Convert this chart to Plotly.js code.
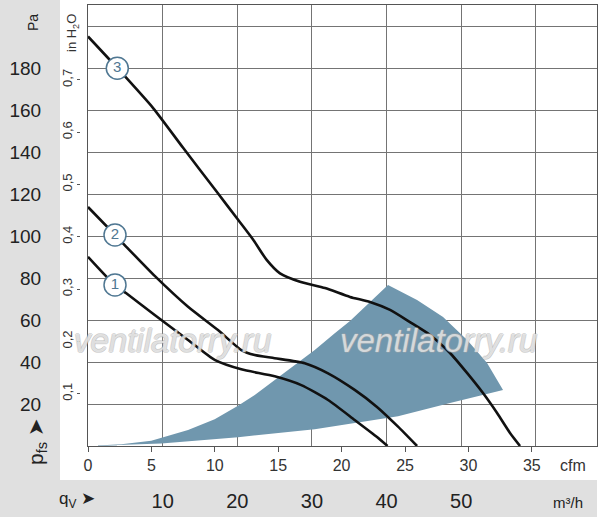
<!DOCTYPE html>
<html>
<head>
<meta charset="utf-8">
<script src="https://cdn.plot.ly/plotly-3.0.1.min.js"></script>
<style>html,body{margin:0;padding:0;background:#fff;}#chart{width:600px;height:519px;}</style>
</head>
<body>
<div id="chart"></div>
<script>
// ---- data (x in cfm, y in Pa) ----
const curve1X = [0, 2.11, 3.02, 5.26, 7.89, 9.99, 12.09, 14.72, 16.82, 18.93, 21.03, 22.79, 23.62];
const curve1Y = [90.1, 76.7, 72.7, 62.4, 50.5, 41, 36.5, 33.2, 29, 21.9, 12.4, 4.3, 0];
const curve2X = [0, 2.13, 2.89, 5.26, 7.89, 10.25, 12.09, 13.15, 14.72, 17.09, 18.93, 21.03, 22.79, 24.45, 25.95];
const curve2Y = [113.8, 100.5, 95.7, 81, 66.3, 55.2, 45.7, 43.3, 41.8, 39.4, 34.6, 26.7, 18.6, 9.2, 0];
const curve3X = [0, 2.31, 5.15, 7.5, 10.2, 11.85, 13.04, 14.09, 15.14, 16.72, 18.69, 20.66, 22.24, 23.82, 25.39, 26.97, 28.55, 29.89, 31.15, 32.26, 33.28, 34.07];
const curve3Y = [195, 180, 160.8, 142, 120.7, 107.6, 98.1, 88.6, 82.2, 78.2, 75.2, 71, 68.6, 64.8, 59, 52.9, 44.3, 34.8, 25.2, 15.7, 6.2, 0];
const shadeX = [0, 2.63, 4.99, 7.89, 9.99, 11.83, 13.15, 14.72, 16.3, 17.88, 19.46, 20.66, 23.66, 25.95, 28, 29.9, 31.47, 32.73, 28.55, 24.45, 17.88, 11.83, 5.78, 0];
const shadeY = [0, 0.8, 2.5, 7.6, 12.7, 19.2, 24.3, 31.4, 38.6, 45.7, 53.7, 59.5, 76.7, 69.5, 61.4, 50.5, 39.5, 26.7, 20.5, 14.2, 8.0, 4.2, 1.2, 0];
const curveLabels = ['1', '2', '3'];
const labelX = [2.13, 2.13, 2.31];
const labelY = [76.7, 100.5, 179.9];

// ---- axes / ticks ----
const cfmTicks = [0, 5, 10, 15, 20, 25, 30, 35];
const cfmTickText = ['0', '5', '10', '15', '20', '25', '30', '35'];
const m3hTicks = [10, 20, 30, 40, 50];
const m3hTickText = ['10', '20', '30', '40', '50'];
const m3hGridExtra = [60];
const paTicks = [20, 40, 60, 80, 100, 120, 140, 160, 180];
const paTickText = ['20', '40', '60', '80', '100', '120', '140', '160', '180'];
const paGridExtra = [200];
const inH2OTicks = [0.1, 0.2, 0.3, 0.4, 0.5, 0.6, 0.7];
const inH2OTickText = ['0,1', '0,2', '0,3', '0,4', '0,5', '0,6', '0,7'];

const CFM_MAX = 40.14;
const PA_MAX = 210;
const M3H_PER_CFM = 1.699;
const PA_PER_INH2O = 249.089;

const FONT = 'Liberation Sans, Arial, Helvetica, sans-serif';
const GRID = '#747474';
const SHADE = '#7097ae';
const BADGE = '#4f7792';

const traces = [
  {x: shadeX, y: shadeY, type: 'scatter', mode: 'lines', fill: 'toself', fillcolor: SHADE,
   line: {width: 0, color: SHADE}, hoverinfo: 'skip', showlegend: false},
  {x: curve1X, y: curve1Y, type: 'scatter', mode: 'lines', line: {color: '#111', width: 2.6, shape: 'spline', smoothing: 0.6}, showlegend: false},
  {x: curve2X, y: curve2Y, type: 'scatter', mode: 'lines', line: {color: '#111', width: 2.6, shape: 'spline', smoothing: 0.6}, showlegend: false},
  {x: curve3X, y: curve3Y, type: 'scatter', mode: 'lines', line: {color: '#111', width: 2.6, shape: 'spline', smoothing: 0.6}, showlegend: false},
  {x: labelX, y: labelY, type: 'scatter', mode: 'markers+text', text: curveLabels, textposition: 'middle center',
   textfont: {family: FONT, size: 15, color: BADGE},
   marker: {symbol: 'circle', size: 22, color: '#ffffff', line: {color: BADGE, width: 1.5}}, showlegend: false},
  // invisible traces that activate the secondary unit axes
  {x: [0], y: [0], xaxis: 'x2', yaxis: 'y', type: 'scatter', mode: 'markers', marker: {opacity: 0}, hoverinfo: 'skip', showlegend: false},
  {x: [0], y: [0], xaxis: 'x', yaxis: 'y2', type: 'scatter', mode: 'markers', marker: {opacity: 0}, hoverinfo: 'skip', showlegend: false}
];

const L = 88, R = 3, T = 5, B = 73, W = 600, H = 519;
const pw = W - L - R, ph = H - T - B;
const fx = p => (p - L) / pw;       // pixel x -> paper x
const fy = p => (H - B - p) / ph;   // pixel y -> paper y

const wmFont = {family: 'Liberation Sans, Arial, sans-serif', size: 33, color: 'rgba(255,255,255,0.6)', style: 'italic',
  shadow: '1px 0 0 rgba(165,165,165,0.7), -1px 0 0 rgba(165,165,165,0.7), 0 1px 0 rgba(165,165,165,0.7), 0 -1px 0 rgba(165,165,165,0.7)'};

function ann(text, x, y, size, extra) {
  return Object.assign({text: text, xref: 'paper', yref: 'paper', x: fx(x), y: fy(y), xanchor: 'center', yanchor: 'middle',
    showarrow: false, font: {size: size, color: '#222', family: FONT}}, extra || {});
}

const layout = {
  width: W, height: H,
  margin: {l: L, r: R, t: T, b: B, pad: 0},
  paper_bgcolor: '#ffffff', plot_bgcolor: '#ffffff',
  showlegend: false,
  font: {family: FONT, color: '#222'},
  xaxis: {range: [0, CFM_MAX], tickvals: cfmTicks, ticktext: cfmTickText, showgrid: false, zeroline: false,
    showline: true, mirror: true, linecolor: '#555', linewidth: 1, ticks: 'outside', ticklen: 5, tickcolor: '#555',
    tickfont: {size: 16, color: '#333', family: FONT}},
  xaxis2: {overlaying: 'x', side: 'bottom', anchor: 'y', range: [0, CFM_MAX * M3H_PER_CFM], tickvals: m3hTicks, ticktext: m3hTickText,
    showgrid: true, gridcolor: GRID, gridwidth: 1, zeroline: false, showline: false, ticks: '',
    minor: {tickvals: m3hGridExtra, showgrid: true, gridcolor: GRID, gridwidth: 1, ticks: ''},
    ticklabelstandoff: 41, tickfont: {size: 20, color: '#222', family: FONT}},
  yaxis: {range: [0, PA_MAX], tickvals: paTicks, ticktext: paTickText, showgrid: true, gridcolor: GRID, gridwidth: 1,
    minor: {tickvals: paGridExtra, showgrid: true, gridcolor: GRID, gridwidth: 1, ticks: ''},
    zeroline: false, showline: true, mirror: true, linecolor: '#555', linewidth: 1, ticks: '',
    ticklabelstandoff: 42, tickfont: {size: 19, color: '#222', family: FONT}},
  yaxis2: {overlaying: 'y', anchor: 'free', position: 0, shift: -8, side: 'left', range: [0, PA_MAX / PA_PER_INH2O],
    tickvals: inH2OTicks, ticktext: inH2OTickText, tickangle: -90, ticks: 'outside', ticklen: 3, tickcolor: '#555',
    showgrid: false, zeroline: false, showline: false, tickfont: {size: 13, color: '#333', family: FONT}},
  shapes: [
    {type: 'rect', xref: 'paper', yref: 'paper', x0: fx(0), x1: fx(60), y0: fy(517), y1: fy(0), fillcolor: '#e0e0e0', line: {width: 0}, layer: 'below'},
    {type: 'rect', xref: 'paper', yref: 'paper', x0: fx(0), x1: fx(597), y0: fy(517), y1: fy(480), fillcolor: '#e0e0e0', line: {width: 0}, layer: 'below'}
  ],
  annotations: [
    ann('Pa', 33, 23, 14, {textangle: -90}),
    ann('in H<sub>2</sub>O', 72, 33, 13, {textangle: -90, font: {size: 13, color: '#333', family: FONT}}),
    ann('p<sub>fs</sub> ➤', 37, 442, 21, {textangle: -90}),
    ann('q<sub>V</sub> ➤', 77, 500, 17),
    ann('m³/h', 568, 502, 15),
    ann('cfm', 573, 465, 16, {font: {size: 16, color: '#333', family: FONT}}),
    ann('ventilatorry.ru', 172, 340, 33, {font: wmFont}),
    ann('ventilatorry.ru', 438, 340, 33, {font: wmFont})
  ]
};

Plotly.newPlot('chart', traces, layout, {displayModeBar: false, staticPlot: true});
</script>
</body>
</html>
